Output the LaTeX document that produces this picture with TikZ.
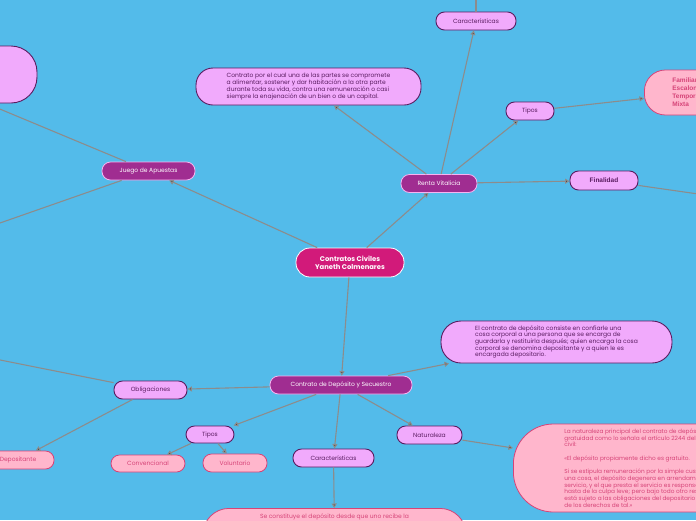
\documentclass[tikz,border=0pt]{standalone}
\usepackage{fontspec}
\setmainfont{Poppins}
\newfontfamily\arialfont{Liberation Sans}
\usetikzlibrary{arrows.meta}

\definecolor{skyblue}{RGB}{83,187,234}
\definecolor{violetfill}{RGB}{241,170,252}
\definecolor{violetline}{RGB}{90,28,96}
\definecolor{plumfill}{RGB}{160,45,145}
\definecolor{plumline}{RGB}{246,180,240}
\definecolor{rosefill}{RGB}{255,182,204}
\definecolor{roseline}{RGB}{214,68,120}
\definecolor{centerfill}{RGB}{210,26,122}
\definecolor{linkgray}{RGB}{140,140,140}

\begin{document}
\begin{tikzpicture}[x=1pt, y=-1pt,
  every node/.style={font=\fontsize{6}{6.9}\selectfont, inner sep=0pt},
  central/.style={draw=white, line width=0.8pt, fill=centerfill, text=white,
    rounded corners=14pt, minimum width=108pt, minimum height=29pt, align=center,
    font=\fontsize{6.8}{8}\selectfont\bfseries},
  branch/.style={draw=plumline, line width=0.8pt, fill=plumfill, text=white,
    rounded corners=8.5pt, minimum height=18pt},
  topic/.style={draw=violetline, line width=0.9pt, fill=violetfill, text=violetline,
    rounded corners=8.5pt, minimum height=18pt},
  note/.style={topic, align=left},
  leaf/.style={draw=roseline, line width=0.8pt, fill=rosefill, text=roseline,
    rounded corners=8.5pt, minimum height=18pt},
  boldlabel/.style={font={\arialfont\bfseries\fontsize{6.5}{8}\selectfont}},
  link/.style={draw=linkgray, line width=1.1pt}]

  \useasboundingbox (0,0) rectangle (696,520);
  \clip (0,0) rectangle (696,520);
  \fill[skyblue] (0,0) rectangle (696,520);

  % central topic and main branches
  \node[central] (civiles) at (350,262.5) {Contratos Civiles\\Yaneth Colmenares};
  \node[branch, minimum width=76pt] (renta) at (439,183.5) {Renta Vitalicia};
  \node[branch, minimum width=93pt] (juego) at (148.5,171) {Juego de Apuestas};
  \node[branch, minimum width=142pt] (deposito) at (341,385) {Contrato de Depósito y Secuestro};

  % renta vitalicia
  \node[topic, minimum width=80pt] (rentacarac) at (476,21) {Características};
  \node[note, minimum width=225pt, minimum height=37pt, rounded corners=17pt]
    (rentadef) at (308.5,86.5) {Contrato por el cual una de las partes se compromete\\a alimentar, sostener y dar habitación a la otra parte\\durante toda su vida, contra una remuneración o casi\\siempre la enajenación de un bien o de un capital.};
  \node[topic, minimum width=48pt] (rentatipos) at (530,111) {Tipos};
  \node[leaf, boldlabel, anchor=west, minimum height=45pt, rounded corners=21pt,
    text width=50pt, inner xsep=28pt, align=left] (modalidades) at (644,92.5)
    {Familiar\\Escalonada\\Temporal\\Mixta};
  \node[topic, boldlabel, minimum width=68pt, minimum height=19pt] (finalidad) at (604,180.5) {Finalidad};
  \coordinate (caracnext) at (476,-30);
  \coordinate (finalnext) at (740,200);

  % juego de apuestas
  \node[note, minimum width=240pt, minimum height=57pt, rounded corners=26pt] (juegodef) at (-83,74.5) {};
  \coordinate (juegonext) at (-40,237);

  % deposito y secuestro
  \node[note, minimum width=231pt, minimum height=42pt, rounded corners=20pt,
    font=\fontsize{6}{6.6}\selectfont]
    (depodef) at (556.5,342) {El contrato de depósito consiste en confiarle una\\cosa corporal a una persona que se encarga de\\guardarla y restituirla después; quien encarga la cosa\\corporal se denomina depositante y a quien le es\\encargada depositario.};
  \node[topic, minimum width=73pt] (obligaciones) at (150.5,390) {Obligaciones};
  \node[leaf, minimum width=72pt] (depositante) at (18,460) {Depositante};
  \coordinate (oblignext) at (-40,352);
  \node[topic, minimum width=48pt, minimum height=17pt] (depotipos) at (210,434.5) {Tipos};
  \node[leaf, minimum width=74pt, minimum height=17pt] (convencional) at (148,463.5) {Convencional};
  \node[leaf, minimum width=64pt] (voluntario) at (235,463) {Voluntario};
  \node[topic, minimum width=81pt] (depocarac) at (333.5,458) {Características};
  \node[leaf, anchor=north, minimum width=263pt, inner ysep=5pt, text depth=30pt, rounded corners=26pt]
    (constituye) at (334.5,508) {Se constituye el depósito desde que uno recibe la};
  \node[topic, minimum width=65pt] (naturaleza) at (429.5,435) {Naturaleza};
  \node[leaf, anchor=west, minimum height=88pt, rounded corners=40pt, inner xsep=51pt,
    align=left, font=\fontsize{5.8}{6.7}\selectfont] (naturdef) at (513,468)
    {La naturaleza principal del contrato de depósito es la\\gratuidad como lo señala el artículo 2244 del código\\civil:\\[6.7pt]«El depósito propiamente dicho es gratuito.\\[6.7pt]Si se estipula remuneración por la simple custodia de\\una cosa, el depósito degenera en arrendamiento de\\servicio, y el que presta el servicio es responsable\\hasta de la culpa leve; pero bajo todo otro respecto\\está sujeto a las obligaciones del depositario y goza\\de los derechos de tal.»};

  \path[link, -{Triangle[length=4.5pt, width=5pt]}]
    (civiles) edge (juego)
              edge (renta)
              edge (deposito)
    (renta) edge (rentacarac)
            edge (rentatipos)
            edge (finalidad)
            edge (rentadef)
    (rentacarac) edge (caracnext)
    (rentatipos) edge (modalidades)
    (finalidad) edge (finalnext)
    (juego) edge (juegodef)
            edge (juegonext)
    (deposito) edge (depodef)
               edge (obligaciones)
               edge (depotipos)
               edge (depocarac)
               edge (naturaleza)
    (obligaciones) edge (depositante)
                   edge (oblignext)
    (depotipos) edge (convencional)
                edge (voluntario)
    (depocarac) edge (constituye)
    (naturaleza) edge (naturdef);
\end{tikzpicture}
\end{document}
